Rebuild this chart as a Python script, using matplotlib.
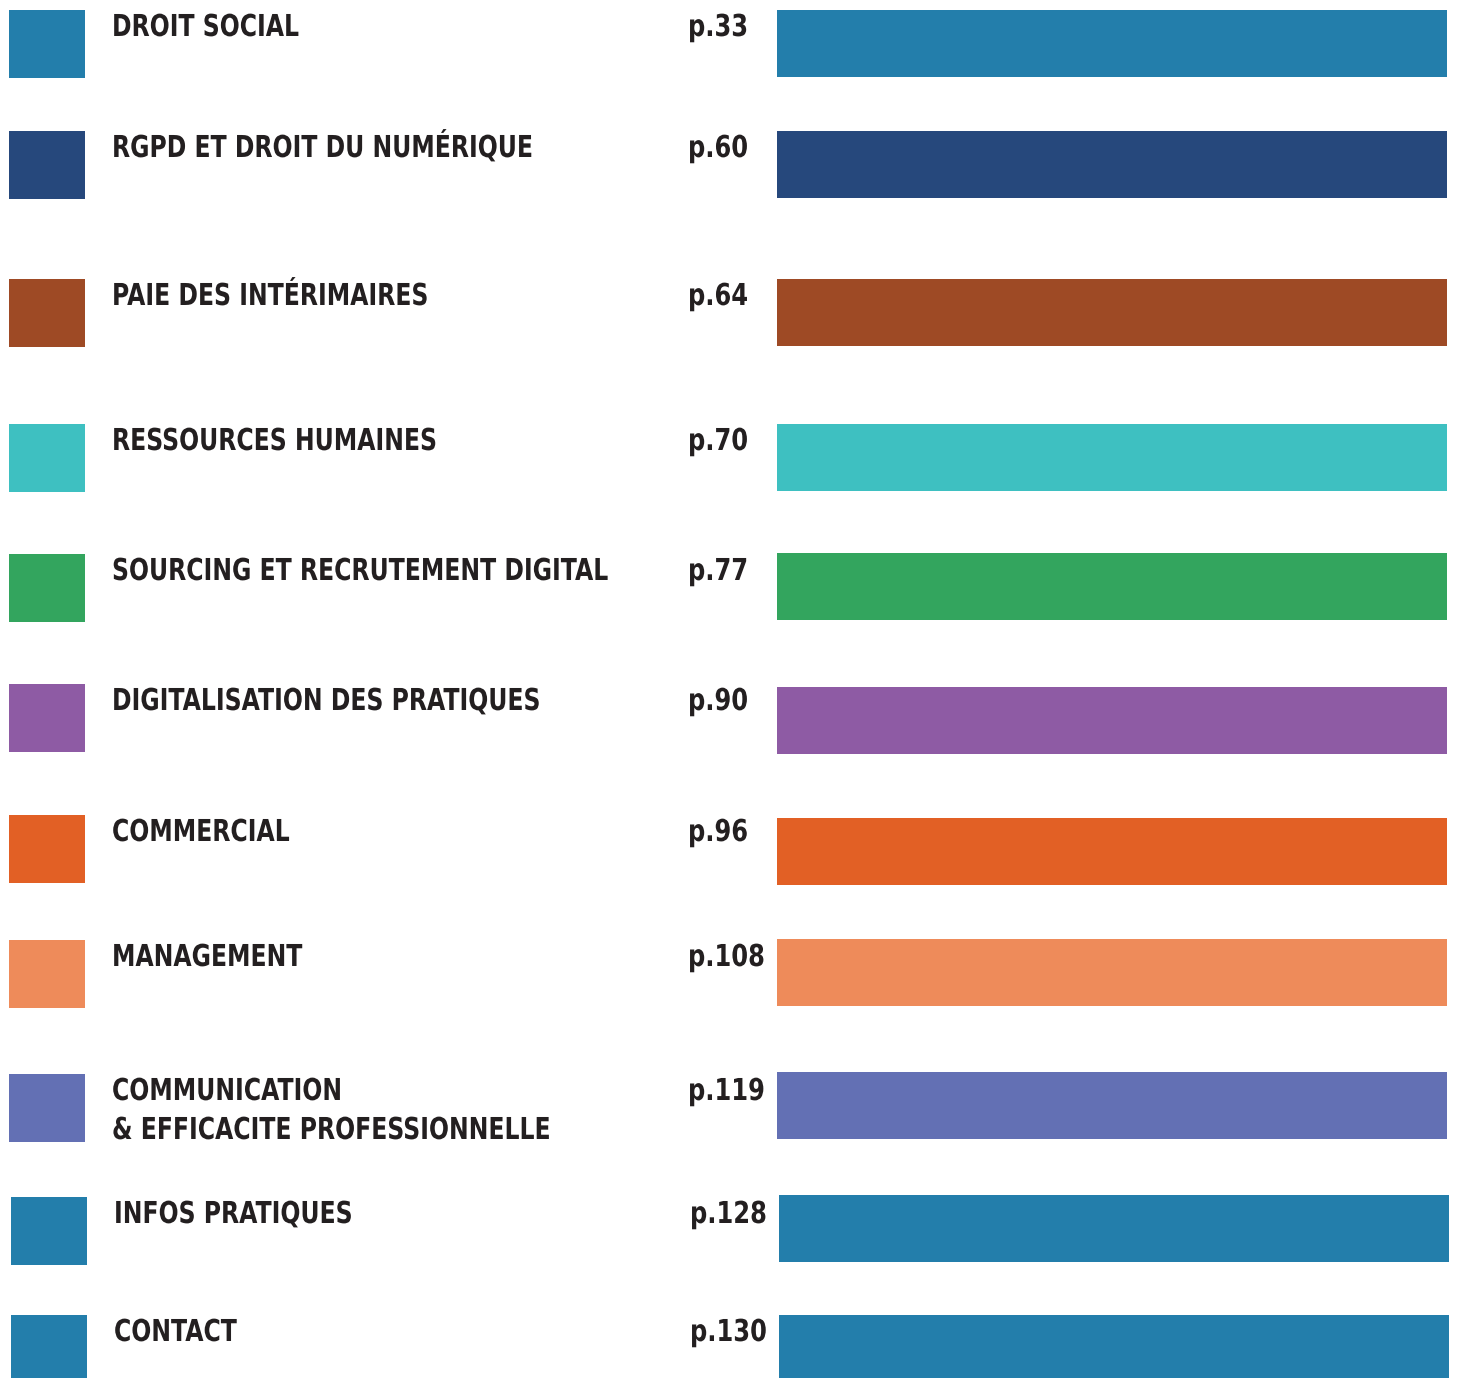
import matplotlib
matplotlib.use("Agg")
import matplotlib.pyplot as plt
from matplotlib.textpath import TextPath
from matplotlib.patches import PathPatch
from matplotlib.font_manager import FontProperties
from matplotlib.transforms import Affine2D

# donnees du sommaire
rubriques = ["DROIT SOCIAL", "RGPD ET DROIT DU NUMÉRIQUE", "PAIE DES INTÉRIMAIRES",
             "RESSOURCES HUMAINES", "SOURCING ET RECRUTEMENT DIGITAL",
             "DIGITALISATION DES PRATIQUES", "COMMERCIAL", "MANAGEMENT",
             "COMMUNICATION\n& EFFICACITE PROFESSIONNELLE", "INFOS PRATIQUES", "CONTACT"]
pages = ["p.33", "p.60", "p.64", "p.70", "p.77", "p.90", "p.96", "p.108",
         "p.119", "p.128", "p.130"]
couleurs = ["#237EAB", "#26487C", "#9E4A25", "#3EC0C1", "#33A55E", "#8E5BA4",
            "#E26025", "#EE8B5A", "#6370B4", "#237EAB", "#237EAB"]

# mise en page (pixels)
haut_carres = [10, 131, 279, 424, 554, 684, 815, 940, 1074, 1197, 1315]
haut_barres = [10, 131, 279, 424, 553, 687, 818, 939, 1072, 1195, 1315]
decalage = [0, 0, 0, 0, 0, 0, 0, 0, 0, 2, 2]
haut_barre = 67
police = FontProperties(family="DejaVu Sans", weight="bold")


def texte_etroit(ax, x, y, s, taille=30.2, sx=0.78):
    """texte condense horizontalement (police type Gill Sans condensed)"""
    for k, ligne in enumerate(s.split("\n")):
        tp = TextPath((0, 0), ligne, size=taille, prop=police)
        tr = Affine2D().scale(sx, -1).translate(x, y + 39 * k)
        p = tr.transform_path(tp)
        ax.add_patch(PathPatch(p, facecolor="#231F20", lw=0))


fig = plt.figure(figsize=(14.59, 13.78), dpi=100)
ax = fig.add_axes([0, 0, 1, 1])
ax.set_xlim(0, 1459)
ax.set_ylim(1378, 0)
ax.axis("off")

for i in range(len(rubriques)):
    dx = decalage[i]
    ax.barh(haut_carres[i] + 34, 76, left=9 + dx, height=68, color=couleurs[i])
    ax.barh(haut_barres[i] + haut_barre / 2, 670, left=777 + dx,
            height=haut_barre, color=couleurs[i])
    texte_etroit(ax, 112 + dx, haut_carres[i] + 26, rubriques[i])
    texte_etroit(ax, 688 + dx, haut_carres[i] + 26, pages[i], sx=0.8)

fig.savefig("out.png", dpi=100)
